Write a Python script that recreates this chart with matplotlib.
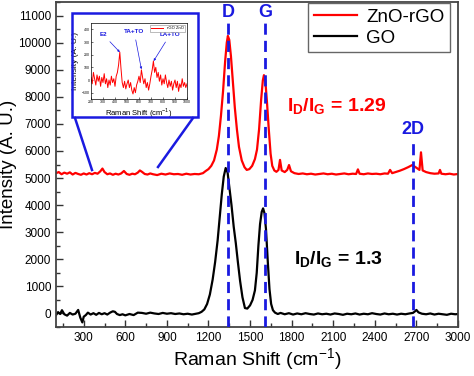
import numpy as np
import matplotlib
matplotlib.use('Agg')
from matplotlib import pyplot as plt
from matplotlib.lines import Line2D
from matplotlib.patches import Rectangle

plt.rcParams['font.family'] = ['Liberation Sans', 'DejaVu Sans']
plt.rcParams['mathtext.fontset'] = 'custom'
plt.rcParams['mathtext.rm'] = 'Liberation Sans'
plt.rcParams['mathtext.bf'] = 'Liberation Sans:bold'

# espectro ZnO-rGO (desplazado)
red_x = [100,120,140,160,180,200,220,240,260,280,300,320,340,360,380,400,420,435,450,470,
         490,510,530,550,570,590,610,630,650,670,690,705,720,740,760,780,800,830,860,890,
         920,950,980,1010,1040,1070,1100,1130,1160,1180,1200,1220,1240,1260,1275,1290,1305,1320,1332,1340,
         1350,1362,1375,1390,1405,1420,1440,1460,1476,1495,1515,1535,1550,1565,1580,1592,1600,1610,1622,1635,
         1648,1660,1675,1690,1705,1716,1728,1750,1768,1781,1795,1820,1850,1880,1910,1940,1970,2000,2030,2060,
         2090,2120,2150,2180,2210,2240,2265,2278,2290,2320,2350,2380,2410,2440,2470,2495,2510,2525,2550,2580,
         2610,2640,2670,2700,2722,2733,2745,2770,2800,2830,2860,2870,2880,2910,2940,2970,3000]
red_y = [5180,5220,5140,5200,5160,5210,5130,5190,5150,5120,5170,5130,5180,5140,5190,5160,5250,5350,5220,5140,
         5170,5120,5160,5130,5170,5260,5150,5120,5160,5140,5200,5280,5230,5150,5130,5170,5140,5110,5160,5130,
         5170,5140,5150,5120,5160,5130,5150,5140,5180,5260,5330,5450,5650,6050,6550,7300,8200,9300,10000,10250,
         10100,9500,8600,7600,6800,6150,5650,5400,5300,5330,5450,5700,6050,6800,7900,8600,8800,8600,7800,6800,
         5900,5450,5280,5230,5300,5670,5280,5220,5300,5480,5250,5180,5150,5170,5140,5160,5130,5150,5170,5140,
         5160,5130,5150,5170,5140,5160,5150,5320,5160,5140,5170,5150,5160,5140,5170,5160,5300,5180,5220,5270,
         5330,5400,5480,5380,5300,5950,5280,5220,5180,5160,5170,5300,5160,5140,5160,5130,5150]

# espectro GO
go_x = [100,115,130,143,160,180,200,220,240,260,275,290,300,315,330,350,370,390,410,430,
        450,470,490,510,525,540,560,580,600,630,660,690,720,750,780,810,840,870,900,930,
        960,990,1020,1050,1080,1110,1130,1150,1170,1190,1210,1230,1248,1266,1282,1296,1310,1324,1338,1352,
        1366,1382,1397,1412,1428,1445,1463,1480,1500,1518,1535,1548,1560,1572,1584,1594,1604,1615,1628,1640,
        1652,1665,1680,1700,1720,1750,1780,1810,1840,1870,1900,1930,1960,1990,2020,2050,2080,2110,2140,2170,
        2200,2230,2260,2290,2320,2350,2380,2410,2440,2470,2500,2530,2560,2590,2620,2650,2675,2690,2700,2715,
        2740,2770,2800,2830,2860,2890,2920,2950,2980,3000]
go_y = [-60,50,-20,120,-30,-80,20,-40,-10,130,-150,-330,-120,-60,30,-40,10,-50,20,-30,
        10,-40,30,80,60,-20,-60,-30,-70,-20,-60,30,20,-10,30,0,-20,20,-10,10,
        -20,0,-30,-10,-40,-10,10,60,150,350,700,1250,1900,2700,3600,4400,5050,5370,5200,4600,
        4000,3200,2600,1900,1200,600,200,180,300,500,850,1500,2500,3300,3750,3880,3700,3100,1900,900,
        350,120,30,-20,20,-30,10,-40,0,-30,10,-20,-40,0,-30,-10,-40,0,-20,-50,
        -10,-30,0,-40,-10,-30,10,-20,-40,0,-30,-10,-40,-10,-30,0,20,80,130,40,
        -10,-30,0,-40,-10,-30,-50,-10,-30,-20]

# recuadro: zona 200-1000 del ZnO-rGO
ins_x = [200,210,220,230,240,250,260,270,280,290,300,310,320,330,340,350,360,370,380,390,
         400,410,420,430,440,450,460,470,480,490,500,510,520,530,540,550,560,570,580,590,
         600,610,620,630,640,650,660,670,680,690,700,710,720,730,740,750,760,770,780,790,
         800,810,820,830,840,850,860,870,880,890,900,910,920,930,940,950,960,970,980,990,1000]
ins_y = [20,-30,60,10,-40,40,-10,30,-50,20,-20,50,-30,10,-60,0,-40,30,-20,10,
         -50,30,60,120,220,90,-20,-60,-10,-70,-30,0,-60,-20,-80,-110,-60,-100,-40,-10,
         30,-20,80,20,-30,10,-60,-20,-80,-30,30,80,150,60,100,20,60,-10,40,-40,
         10,-30,40,-20,-60,0,-50,-10,-80,-30,0,-60,-10,-90,-30,-60,10,-50,-20,-60,-30]

picos = ['D', 'G', '2D']
picos_x = [1343, 1606, 2672]
picos_top = [10750, 10750, 6480]
picos_lbl_y = [11120, 11120, 6800]

azul = '#1a1ae0'

fig = plt.figure(figsize=(4.74, 3.76), dpi=100)
ax = fig.add_axes([56/474, 49/376, 402/474, 325/376])

ax.plot(red_x, red_y, color='#ff0000', lw=1.6, label='ZnO-rGO')
ax.plot(go_x, go_y, color='black', lw=1.6, label='GO')

for nombre, px, top, ly in zip(picos, picos_x, picos_top, picos_lbl_y):
    ax.plot([px, px], [-500, top], color=azul, lw=2.0, ls=(0, (4, 2.2)), zorder=3)
    ax.text(px, ly, nombre, color=azul, fontsize=13, fontweight='bold', ha='center', va='center')

ax.set_xlim(100, 3000)
ax.set_ylim(-500, 11500)
ax.set_xticks(np.arange(300, 3001, 300))
ax.set_xticks(np.arange(150, 3001, 300), minor=True)
ax.set_yticks(np.arange(0, 11001, 1000))
ax.set_yticks(np.arange(-500, 11501, 1000), minor=True)
ax.tick_params(which='both', direction='in', labelsize=8.5, color='#333333')
ax.tick_params(which='major', length=5, width=1)
ax.tick_params(which='minor', length=3, width=1)
for s in ax.spines.values():
    s.set_color('#444444')
    s.set_linewidth(1.3)

ax.set_xlabel('Raman Shift (cm$^{-1}$)', fontsize=14, labelpad=2)
ax.set_ylabel('Intensity (A. U.)', fontsize=13.5, labelpad=0)
ax.yaxis.set_label_coords(-0.098, 0.5)

ax.text(1766, 7480, r'$\mathbf{I_D/I_G}$ = 1.29', color='#ff0000', fontsize=14,
        fontweight='bold', va='baseline')
ax.text(1815, 1815, r'$\mathbf{I_D/I_G}$ = 1.3', color='black', fontsize=14,
        fontweight='bold', va='baseline')

leg = ax.legend(loc='upper right', bbox_to_anchor=(0.98, 0.997), borderaxespad=0,
                fontsize=13.5, handlelength=2.3, fancybox=False, framealpha=1,
                edgecolor='#666666', borderpad=0.3, labelspacing=0.2, handletextpad=0.5)
leg.get_frame().set_linewidth(1.0)

# recuadro azul y lineas de conexion
fig.patches.append(Rectangle((72/474, 1-117/376), 126/474, 104/376, fill=False,
                             edgecolor=azul, lw=1.8, transform=fig.transFigure, zorder=5))
fig.lines.append(Line2D([75/474, 92/474], [1-118/376, 1-170/376], color=azul, lw=1.8,
                        transform=fig.transFigure))
fig.lines.append(Line2D([193/474, 158/474], [1-118/376, 1-167/376], color=azul, lw=1.8,
                        transform=fig.transFigure))

axi = fig.add_axes([91/474, 1-99/376, 96/474, 76/376])
axi.plot(ins_x, ins_y, color='#ff0000', lw=0.7, label='rGO ZnO')
axi.set_xlim(200, 1000)
axi.set_ylim(-150, 450)
axi.set_xticks(np.arange(200, 1001, 100))
axi.set_yticks(np.arange(-100, 401, 100))
axi.tick_params(labelsize=2.5, length=1.2, width=0.4, pad=1, direction='in')
for s in axi.spines.values():
    s.set_linewidth(0.5)
axi.set_xlabel('Raman Shift (cm$^{-1}$)', fontsize=5.5, labelpad=1)
axi.set_ylabel('Intensity (A. U.)', fontsize=6, labelpad=2)
li = axi.legend(loc='upper right', fontsize=3, handlelength=3, fancybox=False,
                borderpad=0.3, framealpha=1, edgecolor='#888888')
li.get_frame().set_linewidth(0.4)

axi.annotate('E2', xy=(440, 220), xytext=(300, 360), color=azul, fontsize=4.5, fontweight='bold',
             ha='center', va='center', arrowprops=dict(arrowstyle='-|>', color=azul, lw=0.5,
                                                       mutation_scale=3, shrinkA=2, shrinkB=0))
axi.annotate('TA+TO', xy=(620, 85), xytext=(560, 380), color=azul, fontsize=4.5, fontweight='bold',
             ha='center', va='center', arrowprops=dict(arrowstyle='-|>', color=azul, lw=0.5,
                                                       mutation_scale=3, shrinkA=2, shrinkB=0))
axi.annotate('LA+TO', xy=(722, 150), xytext=(860, 360), color=azul, fontsize=4.5, fontweight='bold',
             ha='center', va='center', arrowprops=dict(arrowstyle='-|>', color=azul, lw=0.5,
                                                       mutation_scale=3, shrinkA=2, shrinkB=0))

fig.savefig('out.png', dpi=100)
